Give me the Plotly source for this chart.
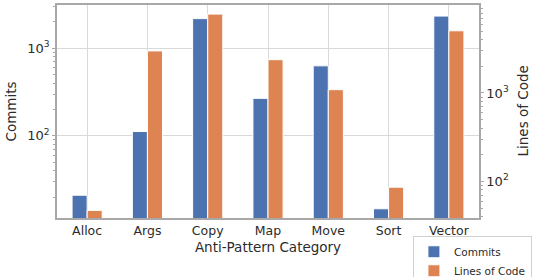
import plotly.graph_objects as go

categories = ["Alloc", "Args", "Copy", "Map", "Move", "Sort", "Vector"]
commits = [21, 112, 2180, 268, 630, 14.7, 2330]
lines_of_code = [47, 2990, 7800, 2380, 1090, 86, 5050]

BLUE = "#4C72B0"
ORANGE = "#DD8452"
TEXT = "#2b2b2b"
FONT = "DejaVu Sans"

fig = go.Figure()
fig.add_trace(go.Bar(
    x=categories, y=commits, name="Commits", yaxis="y",
    marker=dict(color=BLUE, line=dict(color="white", width=1)),
    width=0.25, offset=-0.25, offsetgroup="a",
))
fig.add_trace(go.Bar(
    x=categories, y=lines_of_code, name="Lines of Code", yaxis="y2",
    marker=dict(color=ORANGE, line=dict(color="white", width=1)),
    width=0.25, offset=0.0, offsetgroup="b",
))

axis_line = dict(showline=True, linecolor="#a8a8a8", linewidth=1.5)

fig.update_layout(
    width=533, height=277,
    margin=dict(l=57, r=54, t=5, b=59, autoexpand=False),
    paper_bgcolor="white", plot_bgcolor="white",
    font=dict(family=FONT, size=12, color=TEXT),
    barmode="group",
    showlegend=True,
    legend=dict(
        xref="container", yref="container",
        x=0.998, y=0.147, xanchor="right", yanchor="top",
        bgcolor="white", bordercolor="#d0d0d0", borderwidth=1,
        font=dict(family=FONT, size=10.5, color=TEXT),
        tracegroupgap=0, itemwidth=30,
    ),
    xaxis=dict(
        **axis_line, mirror=True,
        range=[-0.5, 6.5],
        showgrid=True, gridcolor="#d9d9d9", gridwidth=1,
        ticks="", tickfont=dict(size=12.5, color=TEXT),
        title=dict(text="Anti-Pattern Category", font=dict(size=13.5, color=TEXT), standoff=6),
    ),
    yaxis=dict(
        **axis_line,
        type="log", range=[1.062, 3.494],
        tickvals=[100, 1000], ticktext=["10<sup>2</sup>", "10<sup>3</sup>"],
        ticks="outside", ticklen=3, tickcolor="#a8a8a8",
        minor=dict(ticks="outside", ticklen=2, tickcolor="#a8a8a8", showgrid=False,
                   tickvals=[20, 30, 40, 50, 60, 70, 80, 90, 200, 300, 400, 500, 600, 700, 800, 900, 2000, 3000]),
        showgrid=True, gridcolor="#d9d9d9", gridwidth=1,
        tickfont=dict(size=13, color=TEXT),
        title=dict(text="Commits", font=dict(size=13.5, color=TEXT), standoff=8),
        zeroline=False,
    ),
    yaxis2=dict(
        **axis_line,
        type="log", range=[1.586, 3.995], overlaying="y", side="right",
        tickvals=[100, 1000], ticktext=["10<sup>2</sup>", "10<sup>3</sup>"],
        ticks="outside", ticklen=3, tickcolor="#a8a8a8",
        minor=dict(ticks="outside", ticklen=2, tickcolor="#a8a8a8", showgrid=False,
                   tickvals=[40, 50, 60, 70, 80, 90, 200, 300, 400, 500, 600, 700, 800, 900,
                             2000, 3000, 4000, 5000, 6000, 7000, 8000, 9000]),
        showgrid=False,
        tickfont=dict(size=13, color=TEXT),
        zeroline=False,
    ),
    annotations=[dict(
        text="Lines of Code", textangle=-90, showarrow=False,
        xref="paper", yref="paper", x=1.0, y=0.5,
        xanchor="center", yanchor="middle", xshift=43,
        font=dict(family=FONT, size=13.5, color=TEXT),
    )],
)

fig.write_html("out.html", config={"displayModeBar": False},
               post_script="document.body.style.margin='0';")
